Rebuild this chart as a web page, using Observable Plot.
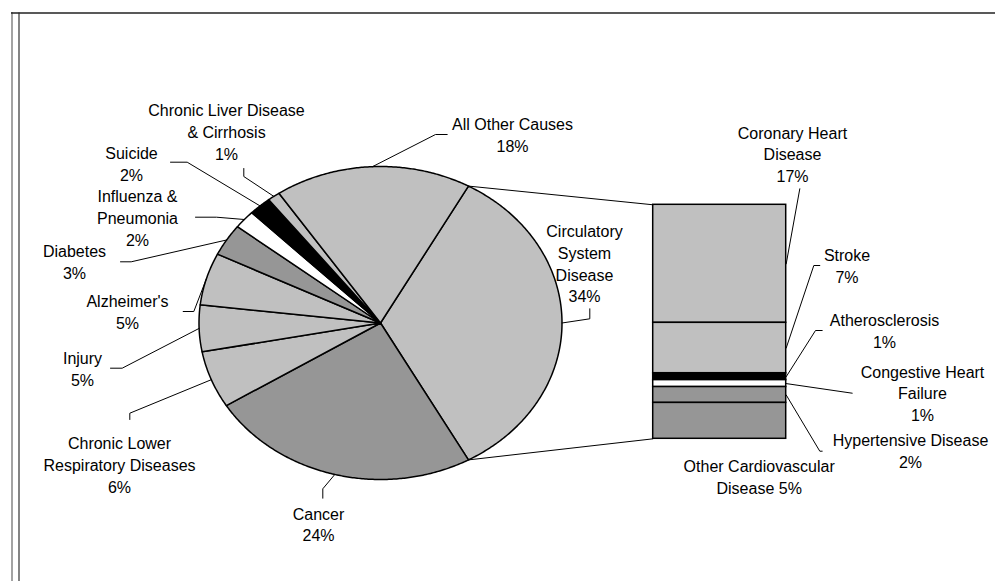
<!DOCTYPE html>
<html>
<head>
<meta charset="utf-8">
<script src="https://cdn.jsdelivr.net/npm/d3@7"></script>
<script src="https://cdn.jsdelivr.net/npm/@observablehq/plot@0.6"></script>
<style>
  html, body { margin: 0; padding: 0; background: #fff; }
  svg { display: block; }
</style>
</head>
<body>
<script>
// ---------- DATA ----------
const pieCategories = [
  "Circulatory System Disease", "Cancer", "Chronic Lower Respiratory Diseases",
  "Injury", "Alzheimer's", "Diabetes", "Influenza & Pneumonia", "Suicide",
  "Chronic Liver Disease & Cirrhosis", "All Other Causes"
];
const pieValues = [33.9, 24.2, 5.9, 4.8, 5.4, 3.3, 1.9, 2.0, 1.1, 17.5];
const pieLabels = [
  "Circulatory\nSystem\nDisease\n34%", "Cancer\n24%", "Chronic Lower\nRespiratory Diseases\n6%",
  "Injury\n5%", "Alzheimer's\n5%", "Diabetes\n3%", "Influenza &\nPneumonia\n2%", "Suicide\n2%",
  "Chronic Liver Disease\n& Cirrhosis\n1%", "All Other Causes\n18%"
];

const barCategories = [
  "Coronary Heart Disease", "Stroke", "Atherosclerosis",
  "Congestive Heart Failure", "Hypertensive Disease", "Other Cardiovascular Disease"
];
const barValues = [17.1, 7.3, 1.0, 1.0, 2.3, 5.2];
const barLabels = [
  "Coronary Heart\nDisease\n17%", "Stroke\n7%", "Atherosclerosis\n1%",
  "Congestive Heart\nFailure\n1%", "Hypertensive Disease\n2%", "Other Cardiovascular\nDisease 5%"
];

// ---------- STYLE / LAYOUT ----------
const pieFill = ["#c0c0c0", "#969696", "#c0c0c0", "#c0c0c0", "#c0c0c0", "#969696", "#ffffff", "#000000", "#c0c0c0", "#c0c0c0"];
const barFill = ["#c0c0c0", "#c0c0c0", "#000000", "#ffffff", "#969696", "#969696"];

const W = 995, H = 581;
const pie = {cx: 380, cy: 322.5, rx: 181.5, ry: 156.5};
const bar = {x0: 652.7, x1: 785.7, y0: 204.3, y1: 438.3};

// label block centres and label-side leader points (pixel layout)
const pieLabelLayout = [
  {x: 584, y: 262.2, leader: [[589.3, 308.3], [589.3, 318.3]]},
  {x: 318, y: 523, leader: [[322.3, 497.7], [322.3, 488.3]]},
  {x: 119, y: 463.3, leader: [[129.3, 419], [129.3, 412.7]]},
  {x: 82, y: 367.2, leader: [[110, 367.7], [121.7, 367.7]]},
  {x: 127, y: 310.4, leader: [[182.7, 311], [193.3, 311]]},
  {x: 74, y: 260.9, leader: [[120, 261.3], [130.7, 261.3]]},
  {x: 137, y: 216.4, leader: [[195, 216.7], [216, 216.7]]},
  {x: 131, y: 162.2, leader: [[170, 161.7], [186.7, 161.7]]},
  {x: 226, y: 130.7, leader: [[243.3, 168], [243.3, 176]]},
  {x: 512, y: 133.4, leader: [[446.7, 134], [435, 134]]}
];
const barLabelLayout = [
  {x: 792, y: 152.9, leader: [[799.3, 188.3]]},
  {x: 846.5, y: 264.9, leader: [[819.3, 265], [813.3, 265]]},
  {x: 884, y: 329.5, leader: [[821.7, 330], [815, 330]]},
  {x: 922, y: 391.9, leader: [[851.7, 392.7]]},
  {x: 910, y: 449.9, leader: [[821.7, 450.7], [819.3, 450.7]]},
  {x: 758.7, y: 475.9, leader: null}
];

// ---------- GEOMETRY FROM DATA ----------
const pieTotal = d3.sum(pieValues);
const startAngle = 90 - (pieValues[0] / pieTotal * 360) / 2; // split slice centred at 3 o'clock
function edgePoint(deg) {
  const a = deg * Math.PI / 180;
  return [pie.cx + pie.rx * Math.sin(a), pie.cy - pie.ry * Math.cos(a)];
}

const sliceRows = [];
const sliceInfo = [];
let acc = startAngle;
pieValues.forEach((v, i) => {
  const a0 = acc, a1 = acc + v / pieTotal * 360;
  acc = a1;
  sliceInfo.push({a0, a1, mid: (a0 + a1) / 2});
  const name = pieCategories[i];
  sliceRows.push({name, fill: pieFill[i], x: pie.cx, y: pie.cy});
  const n = Math.max(2, Math.ceil((a1 - a0) / 0.5));
  for (let k = 0; k <= n; k++) {
    const [x, y] = edgePoint(a0 + (a1 - a0) * k / n);
    sliceRows.push({name, fill: pieFill[i], x, y});
  }
  sliceRows.push({name, fill: pieFill[i], x: pie.cx, y: pie.cy});
});

const barTotal = d3.sum(barValues);
const barRows = [];
let cum = 0;
barValues.forEach((v, i) => {
  const y0 = bar.y0 + cum / barTotal * (bar.y1 - bar.y0);
  cum += v;
  const y1 = bar.y0 + cum / barTotal * (bar.y1 - bar.y0);
  barRows.push({name: barCategories[i], fill: barFill[i], y0, y1, mid: (y0 + y1) / 2});
});

// connectors pie -> bar
const split = sliceInfo[0];
const [tx, ty] = edgePoint(split.a0);
const [bx, by] = edgePoint(split.a1);
const connectors = [
  {x1: tx, y1: ty, x2: bar.x0, y2: bar.y0},
  {x1: bx, y1: by, x2: bar.x0, y2: bar.y1}
];

// leaders
const leaderRows = [];
pieLabelLayout.forEach((l, i) => {
  if (!l.leader) return;
  l.leader.forEach(([x, y]) => leaderRows.push({name: pieCategories[i], x, y}));
  const [ex, ey] = edgePoint(sliceInfo[i].mid);
  leaderRows.push({name: pieCategories[i], x: ex, y: ey});
});
barLabelLayout.forEach((l, i) => {
  if (!l.leader) return;
  l.leader.forEach(([x, y]) => leaderRows.push({name: barCategories[i], x, y}));
  leaderRows.push({name: barCategories[i], x: bar.x1, y: barRows[i].mid});
});

const textRows = [
  ...pieLabels.map((t, i) => ({text: t, x: pieLabelLayout[i].x, y: pieLabelLayout[i].y})),
  ...barLabels.map((t, i) => ({text: t, x: barLabelLayout[i].x, y: barLabelLayout[i].y}))
];

// ---------- PLOT ----------
const chart = Plot.plot({
  width: W,
  height: H,
  margin: 0,
  x: {domain: [0, W], range: [0, W], axis: null},
  y: {domain: [0, H], range: [0, H], axis: null},
  color: {type: "identity"},
  style: {fontFamily: "'Liberation Sans', Arial, sans-serif", background: "#fff"},
  marks: [
    // outer frame
    Plot.ruleX([11.5], {y1: 12, y2: H, stroke: "#666", strokeWidth: 1.2}),
    Plot.ruleX([18.5], {y1: 12.5, y2: H, stroke: "#333", strokeWidth: 1.2}),
    Plot.ruleY([12.5], {x1: 11, x2: W, stroke: "#222", strokeWidth: 1.5}),
    // pie slices
    Plot.line(sliceRows, {x: "x", y: "y", z: "name", fill: "fill", stroke: "#000", strokeWidth: 1.5, curve: "linear", strokeLinejoin: "round"}),
    // bar of pie
    Plot.rect(barRows, {x1: bar.x0, x2: bar.x1, y1: "y0", y2: "y1", fill: "fill", stroke: "#000", strokeWidth: 1.5}),
    // connectors
    Plot.link(connectors, {x1: "x1", y1: "y1", x2: "x2", y2: "y2", stroke: "#000", strokeWidth: 1}),
    // leader lines
    Plot.line(leaderRows, {x: "x", y: "y", z: "name", stroke: "#000", strokeWidth: 1, curve: "linear"}),
    // labels
    Plot.text(textRows, {x: "x", y: "y", text: "text", fontSize: 16, lineHeight: 1.36, lineAnchor: "middle", textAnchor: "middle", fill: "#000"})
  ]
});
document.body.appendChild(chart);
</script>
</body>
</html>
